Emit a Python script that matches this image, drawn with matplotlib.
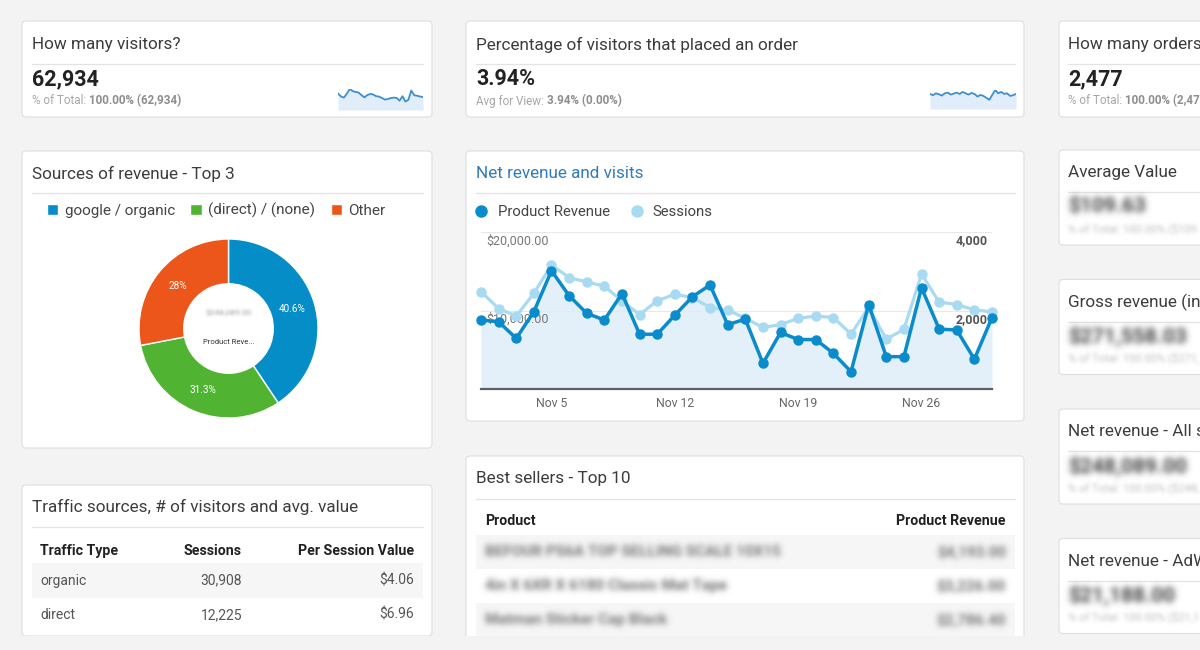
import numpy as np
import matplotlib
matplotlib.use('Agg')
import matplotlib.pyplot as plt
from matplotlib.patches import FancyBboxPatch, Rectangle
from matplotlib.lines import Line2D

plt.rcParams['font.family'] = ['Roboto', 'DejaVu Sans']

# ---------------- data ----------------
days = list(range(1, 31))
revenue = [8790, 8570, 6450, 9850, 15070, 11890, 9640, 8790, 12150, 6980,
           6980, 9400, 11760, 13250, 8200, 8900, 3270, 7200, 6300, 6300,
           4540, 2200, 10760, 4120, 4120, 12900, 7640, 7510, 3800, 9100]
sessions = [2480, 2050, 1860, 2438, 3159, 2840, 2725, 2620, 2245, 1895,
            2245, 2415, 2330, 2075, 2013, 1801, 1570, 1640, 1801, 1860,
            1820, 1400, 2075, 1270, 1520, 2925, 2215, 2150, 2020, 1960]
conversion = [4.03, 3.68, 4.20, 3.94, 3.59, 4.20, 4.38, 3.85, 4.12, 4.38,
              4.03, 4.56, 4.20, 3.85, 4.29, 4.03, 3.33, 3.77, 3.50, 2.98,
              2.45, 3.77, 5.08, 4.20, 4.56, 4.03, 4.20, 3.50, 3.68, 4.03]
x_tick_days = [5, 12, 19, 26]
x_tick_labels = ['Nov 5', 'Nov 12', 'Nov 19', 'Nov 26']
rev_ticks = [10000, 20000]
sess_ticks = [2000, 4000]

source_labels = ['google / organic', '(direct) / (none)', 'Other']
source_shares = [40.6, 31.3, 28.0]
source_colors = ['#058DC7', '#50B432', '#ED561B']

traffic_types = ['organic', 'direct']
traffic_sessions = [30908, 12225]
traffic_value = [4.06, 6.96]

best_products = ['BEFOUR PS6A TOP SELLING SCALE 10X15',
                 '4in X 6XR X 6180 Classic Mat Tape',
                 'Matman Sticker Cap Black']
best_revenue = [4193.00, 3226.00, 2786.40]

total_visitors = 62934
conv_rate = 3.94
total_orders = 2477
kpi_titles = ['Average Value', 'Gross revenue (incl. tax)',
              'Net revenue - All sources', 'Net revenue - AdWords']
kpi_values = [109.63, 271558.03, 248089.00, 21188.00]

C_DARK = '#0a8bcb'
C_LIGHT = '#a8dbf1'
C_FILL = '#e3f0f9'
TITLE = '#3c3c3c'
TSIZE = 12.3

W, H = 1200, 650


# ---------------- blur filter for obscured texts ----------------
class Blur:
    def __init__(self, sigma=2.5, color=(0.6, 0.6, 0.6), gain=1.0):
        self.sigma = sigma
        self.color = color
        self.gain = gain

    def __call__(self, im, dpi):
        pad = int(self.sigma * 3) + 1
        a = np.pad(im[:, :, 3], pad)
        r = np.arange(-pad, pad + 1)
        k = np.exp(-0.5 * (r / self.sigma) ** 2)
        k /= k.sum()
        a = np.apply_along_axis(lambda v: np.convolve(v, k, 'same'), 0, a)
        a = np.apply_along_axis(lambda v: np.convolve(v, k, 'same'), 1, a)
        out = np.zeros(a.shape + (4,))
        out[..., :3] = self.color
        out[..., 3] = np.clip(a * self.gain, 0, 1)
        return out, -pad, -pad


fig = plt.figure(figsize=(12, 6.5), dpi=100, facecolor='#f3f3f3')
bg = fig.add_axes([0, 0, 1, 1])
bg.set_xlim(0, W)
bg.set_ylim(H, 0)
bg.axis('off')


def card(x0, y0, x1, y1):
    bg.add_patch(FancyBboxPatch((x0, y0), x1 - x0, y1 - y0,
                                boxstyle='round,pad=0,rounding_size=4',
                                fc='white', ec='#dedede', lw=0.8, zorder=1))


def divider(x0, x1, y):
    bg.plot([x0, x1], [y, y], color='#e3e3e3', lw=0.9, zorder=2)


def txt(x, y, s, size=TSIZE, color=TITLE, weight='normal', ha='left', blur=None):
    t = bg.text(x, y, s, size=size, color=color, weight=weight, ha=ha,
                va='center', zorder=3)
    if blur is not None:
        t.set_agg_filter(blur)
    return t


def sub(x, y, a, b):
    t = txt(x, y, a, size=8.4, color='#a6a6a6')
    bg.annotate(b, xy=(1, 0.5), xycoords=t, va='center', ha='left',
                size=8.4, color='#8e8e8e', weight='bold', zorder=3)


def px_axes(x0, y0, x1, y1):
    return fig.add_axes([x0 / W, 1 - y1 / H, (x1 - x0) / W, (y1 - y0) / H])


def sparkline(x0, y0, x1, y1, vals):
    a = px_axes(x0, y0, x1, y1)
    a.fill_between(days, vals, color='#e1eef9', lw=0)
    a.plot(days, vals, color='#3d8fd1', lw=1.3)
    a.set_xlim(days[0], days[-1])
    a.set_ylim(0, max(vals))
    a.axis('off')


# ---------------- top KPI cards ----------------
card(22, 21, 432, 117)
txt(32, 45, 'How many visitors?')
divider(32, 423, 64)
txt(32, 79, f'{total_visitors:,}', size=15.5, color='#222', weight='bold')
sub(32, 101, '% of Total: ', f'100.00% ({total_visitors:,})')
sparkline(338, 89, 423, 110, sessions)

card(466, 21, 1024, 117)
txt(476, 45, 'Percentage of visitors that placed an order')
divider(476, 1015, 64)
txt(476, 79, f'{conv_rate:.2f}%', size=15.5, color='#222', weight='bold')
sub(476, 101, 'Avg for View: ', f'{conv_rate:.2f}% (0.00%)')
sparkline(930, 90, 1016, 109, conversion)

card(1059, 21, 1240, 117)
txt(1068, 45, 'How many orders?')
divider(1068, 1240, 64)
txt(1068, 79, f'{total_orders:,}', size=15.5, color='#222', weight='bold')
sub(1068, 101, '% of Total: ', f'100.00% ({total_orders:,})')

# right column blurred KPI cards
for i, (ttl, val) in enumerate(zip(kpi_titles, kpi_values)):
    top = 150 + i * 129.5
    card(1059, top, 1240, top + 95)
    txt(1068, top + 23, ttl)
    divider(1068, 1240, top + 42)
    txt(1068, top + 57, f'${val:,.2f}', size=15, color='#222', weight='bold',
        blur=Blur(3.2, (0.5, 0.5, 0.5), 1.5))
    txt(1068, top + 79, f'% of Total: 100.00% (${val:,.2f})', size=8,
        color='#aaa', blur=Blur(2.0, (0.8, 0.8, 0.8), 1.3))

# ---------------- donut card ----------------
card(22, 151, 432, 448)
txt(32, 174, 'Sources of revenue - Top 3')
divider(32, 423, 193)

ax_p = px_axes(139, 239, 318, 418)
wedges, _ = ax_p.pie(source_shares, colors=source_colors, startangle=90,
                     counterclock=False, radius=1,
                     wedgeprops=dict(width=0.5, edgecolor='white', linewidth=1.0))
ax_p.set_xlim(-1, 1)
ax_p.set_ylim(-1, 1)
ax_p.set_aspect('equal')
tot = sum(source_shares)
cum = 0
for s in source_shares:
    th = np.deg2rad(90 - (cum + s / 2) / tot * 360)
    ax_p.text(0.74 * np.cos(th), 0.74 * np.sin(th), f'{s:g}%', color='white',
              size=7.2, ha='center', va='center')
    cum += s
t = ax_p.text(0, 0.17, f'${kpi_values[2]:,.2f}', size=6, color='#555',
              ha='center', va='center')
t.set_agg_filter(Blur(1.4, (0.6, 0.6, 0.6), 1.0))
ax_p.text(0, -0.15, 'Product Reve...', size=5.5, color='#333', ha='center', va='center')

fig.legend(wedges, source_labels, loc='center left',
           bbox_to_anchor=(47 / W, 1 - 210.5 / H), ncol=3, frameon=False,
           fontsize=11, handlelength=0.75, handleheight=0.75, handletextpad=0.42,
           columnspacing=1.0, borderpad=0, borderaxespad=0, labelcolor='#444')

# ---------------- line chart card ----------------
card(466, 151, 1024, 421)
txt(476, 174, 'Net revenue and visits', color='#2f7bbd')
divider(476, 1015, 193)

ax = px_axes(481, 232, 992, 389)
ax.set_xlim(days[0], days[-1])
ax.set_ylim(0, 20000)
ax.fill_between(days, revenue, color=C_FILL, lw=0, zorder=1)
ax.set_yticks(rev_ticks)
ax.grid(axis='y', color='#e8e8e8', lw=0.8, zorder=0)
ax.tick_params(axis='y', length=0, labelleft=False)
ax.set_xticks(x_tick_days, x_tick_labels)
ax.tick_params(axis='x', length=0, pad=6, labelsize=8.8, labelcolor='#666')
for sp in ['top', 'left', 'right']:
    ax.spines[sp].set_visible(False)
ax.spines['bottom'].set_color('#5f5f5f')
ax.spines['bottom'].set_linewidth(1.6)
ax.set_facecolor('none')
for v in rev_ticks:
    ax.annotate(f'${v:,.2f}', xy=(0, v), xycoords=('axes fraction', 'data'),
                xytext=(5, -9), textcoords='offset pixels', va='center',
                ha='left', size=9, color='#777', zorder=2)

ax_s = ax.twinx()
ax_s.set_ylim(0, 4000)
ax_s.plot(days, sessions, color=C_LIGHT, lw=2.3, marker='o', ms=6.5,
          clip_on=False, solid_joinstyle='round')
ax_s.set_yticks([])
for sp in ax_s.spines.values():
    sp.set_visible(False)
for v in sess_ticks:
    ax_s.annotate(f'{v:,}', xy=(1, v), xycoords=('axes fraction', 'data'),
                  xytext=(-4, -9), textcoords='offset pixels', va='center',
                  ha='right', size=9, color='#555', weight='bold')

ax_r = ax.twinx()
ax_r.set_ylim(0, 20000)
ax_r.plot(days, revenue, color=C_DARK, lw=2.5, marker='o', ms=6.5,
          clip_on=False, solid_joinstyle='round')
ax_r.set_yticks([])
for sp in ax_r.spines.values():
    sp.set_visible(False)

handles = [Line2D([], [], ls='', marker='o', ms=8, color=C_DARK),
           Line2D([], [], ls='', marker='o', ms=8, color=C_LIGHT)]
fig.legend(handles, ['Product Revenue', 'Sessions'], loc='center left',
           bbox_to_anchor=(474 / W, 1 - 212 / H), ncol=2, frameon=False,
           fontsize=10.7, handlelength=1.0, handletextpad=0.6,
           columnspacing=1.3, borderpad=0, borderaxespad=0, labelcolor='#444')

# ---------------- traffic table card ----------------
card(22, 485, 432, 636)
txt(32, 507, 'Traffic sources, # of visitors and avg. value')
divider(32, 423, 527)
txt(40, 551, 'Traffic Type', size=10.2, color='#222', weight='bold')
txt(242, 551, 'Sessions', size=10.2, color='#222', weight='bold', ha='right')
txt(414, 551, 'Per Session Value', size=10.2, color='#222', weight='bold', ha='right')
for i, (tt, ss, vv) in enumerate(zip(traffic_types, traffic_sessions, traffic_value)):
    y0 = 563 + i * 34.5
    if i % 2 == 0:
        bg.add_patch(Rectangle((32, y0), 391, 34.5, fc='#f6f6f6', ec='none', zorder=2))
    yc = y0 + 17.5
    txt(40, yc, tt, size=10, color='#555')
    txt(242, yc, f'{ss:,}', size=10, color='#555', ha='right')
    txt(414, yc, f'${vv:.2f}', size=10, color='#555', ha='right')

# ---------------- best sellers card ----------------
card(466, 456, 1024, 640)
txt(476, 478, 'Best sellers - Top 10')
divider(476, 1015, 499)
txt(485, 521, 'Product', size=10.2, color='#222', weight='bold')
txt(1006, 521, 'Product Revenue', size=10.2, color='#222', weight='bold', ha='right')
for i, (pn, pr) in enumerate(zip(best_products, best_revenue)):
    y0 = 535 + i * 34
    if i % 2 == 0:
        bg.add_patch(Rectangle((476, y0), 539, 34, fc='#f6f6f6', ec='none', zorder=2))
    yc = y0 + 17
    txt(485, yc, pn, size=11, color='#888', weight='bold',
        blur=Blur(3.0, (0.66, 0.66, 0.66), 1.7))
    txt(1006, yc, f'${pr:,.2f}', size=11, color='#888', ha='right', weight='bold',
        blur=Blur(3.0, (0.66, 0.66, 0.66), 1.7))

# bottom strip of page background
bg.add_patch(Rectangle((0, 636), W, 20, fc='#f3f3f3', ec='none', zorder=5))

fig.savefig('out.png', dpi=100, facecolor=fig.get_facecolor())
